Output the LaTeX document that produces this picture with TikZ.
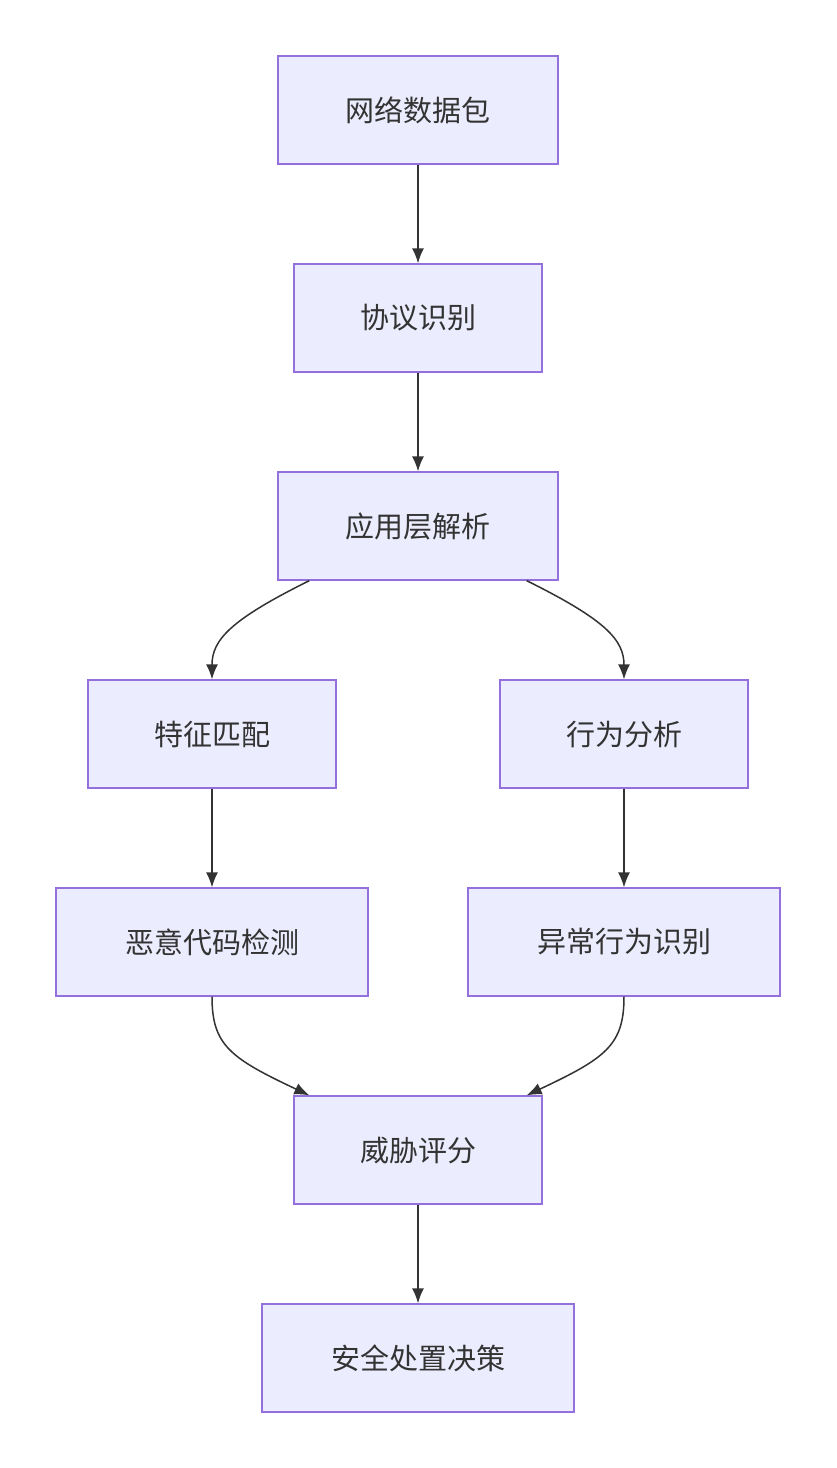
\documentclass[tikz,border=0pt]{standalone}
\usepackage{fontspec}
\newfontfamily\cjk{Noto Sans CJK SC}
\usetikzlibrary{arrows.meta}
\definecolor{boxfill}{HTML}{ECECFF}
\definecolor{boxline}{HTML}{9370DB}
\definecolor{ink}{HTML}{333333}
\begin{document}
\begin{tikzpicture}[x=1pt,y=-1pt,
  box/.style={draw=boxline,fill=boxfill,line width=1.3pt,minimum height=108pt,inner sep=0pt,
    font=\cjk\fontsize{29}{34}\selectfont,text=ink},
  arr/.style={draw=ink,line width=1.5pt,-{Latex[length=15pt,width=12pt]}}]
\useasboundingbox (0,0) rectangle (836,1468);
\node[box,minimum width=280pt] (n1) at (418,110) {网络数据包};
\node[box,minimum width=248pt] (n2) at (418,318) {协议识别};
\node[box,minimum width=280pt] (n3) at (418,526) {应用层解析};
\node[box,minimum width=248pt] (n4) at (212,734) {特征匹配};
\node[box,minimum width=248pt] (n5) at (624,734) {行为分析};
\node[box,minimum width=312pt] (n6) at (212,942) {恶意代码检测};
\node[box,minimum width=312pt] (n7) at (624,942) {异常行为识别};
\node[box,minimum width=248pt] (n8) at (418,1150) {威胁评分};
\node[box,minimum width=312pt] (n9) at (418,1358) {安全处置决策};
\draw[arr] (n1) -- (n2);
\draw[arr] (n2) -- (n3);
\draw[arr] ([xshift=32pt]n3.south west) .. controls (230,620) and (212,640) .. (n4.north);
\draw[arr] ([xshift=-32pt]n3.south east) .. controls (606,620) and (624,640) .. (n5.north);
\draw[arr] (n4) -- (n6);
\draw[arr] (n5) -- (n7);
\draw[arr] (n6.south) .. controls (212,1045) and (230,1058) .. ([xshift=16pt]n8.north west);
\draw[arr] (n7.south) .. controls (624,1045) and (606,1058) .. ([xshift=-16pt]n8.north east);
\draw[arr] (n8) -- (n9);
\end{tikzpicture}
\end{document}
